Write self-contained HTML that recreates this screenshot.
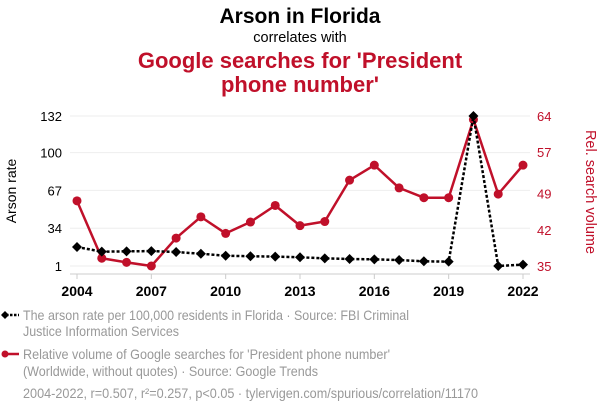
<!DOCTYPE html>
<html><head><meta charset="utf-8"><style>
body{margin:0;background:#fff;width:600px;height:414px;overflow:hidden;font-family:"Liberation Sans",sans-serif}
</style></head><body>
<svg width="600" height="414" xmlns="http://www.w3.org/2000/svg" font-family="Liberation Sans, sans-serif">
<text x="300" y="23" text-anchor="middle" font-size="21" font-weight="bold" fill="#000">Arson in Florida</text>
<text x="300" y="42" text-anchor="middle" font-size="14.5" fill="#000">correlates with</text>
<text x="300" y="68" text-anchor="middle" font-size="22" font-weight="bold" fill="#c0102a">Google searches for 'President</text>
<text x="300" y="92" text-anchor="middle" font-size="22" font-weight="bold" fill="#c0102a">phone number'</text>
<g id="grid"></g>
<g id="axes"></g>
<g id="series"></g>
<text transform="translate(16,191) rotate(-90)" text-anchor="middle" font-size="14" fill="#000">Arson rate</text>
<text transform="translate(586,192) rotate(90)" text-anchor="middle" font-size="14.5" fill="#c0102a">Rel. search volume</text>
<g>
<line x1="2" y1="315" x2="19" y2="315" stroke="#000" stroke-width="2.5" stroke-dasharray="2.5,1.5"/>
<path d="M5 311 L9 315 L5 319 L1 315 Z" fill="#000"/>
<text x="23" y="320" font-size="14" fill="#999" textLength="386" lengthAdjust="spacingAndGlyphs">The arson rate per 100,000 residents in Florida · Source: FBI Criminal</text>
<text x="23" y="336" font-size="14" fill="#999" textLength="156" lengthAdjust="spacingAndGlyphs">Justice Information Services</text>
</g>
<g>
<line x1="2" y1="354" x2="19" y2="354" stroke="#c0102a" stroke-width="2.5"/>
<circle cx="5" cy="354" r="3.5" fill="#c0102a"/>
<text x="23" y="359" font-size="14" fill="#999" textLength="367" lengthAdjust="spacingAndGlyphs">Relative volume of Google searches for 'President phone number'</text>
<text x="23" y="376" font-size="14" fill="#999" textLength="295" lengthAdjust="spacingAndGlyphs">(Worldwide, without quotes) · Source: Google Trends</text>
</g>
<text x="23" y="398" font-size="14" fill="#999" textLength="455" lengthAdjust="spacingAndGlyphs">2004-2022, r=0.507, r²=0.257, p&lt;0.05 · tylervigen.com/spurious/correlation/11170</text>
</svg>
<script>
const years=[2004,2005,2006,2007,2008,2009,2010,2011,2012,2013,2014,2015,2016,2017,2018,2019,2020,2021,2022];
const arson=[17.6,13.5,13.8,14,13.2,11.7,10,9.5,9.2,8.6,7.7,7.1,6.8,6.2,5.1,4.8,132,1,2.2];
const searches=[47.6,36.5,35.7,35,40.4,44.5,41.3,43.5,46.7,42.8,43.6,51.6,54.5,50.1,48.2,48.2,63.3,48.9,54.5];
const leftTicks=[1,34,67,100,132];
const rightTicks=[35,42,49,57,64];
const xTicks=[2004,2007,2010,2013,2016,2019,2022];
const NS="http://www.w3.org/2000/svg";
const x=v=>77+(v-2004)*(523-77)/18;
const yL=v=>266-(v-1)*150/131;
const yR=v=>266-(v-35)*150/29;
function mk(t,a,p){const e=document.createElementNS(NS,t);for(const k in a)e.setAttribute(k,a[k]);if(p)p.appendChild(e);return e;}
const grid=document.getElementById('grid'),axes=document.getElementById('axes'),ser=document.getElementById('series');
leftTicks.forEach(v=>{
 const g=mk('line',{x1:70,x2:530,y1:yL(v),y2:yL(v),stroke:'#eee','stroke-width':1},grid);
 
 
 const t=mk('text',{x:62,y:yL(v)+5,'text-anchor':'end','font-size':13,fill:'#000'},axes);t.textContent=v;
 
 
});
rightTicks.forEach(v=>{
 const t=mk('text',{x:537,y:yR(v)+5,'font-size':13,fill:'#c0102a'},axes);t.textContent=v;
 
 
});
const ax=mk('line',{x1:70,x2:530,y1:274,y2:274,stroke:'#ccc','stroke-width':1},axes);


xTicks.forEach(v=>{
 mk('line',{x1:x(v),x2:x(v),y1:274,y2:279,stroke:'#ccc'},axes);
 const t=mk('text',{x:x(v),y:296,'text-anchor':'middle','font-size':14,'font-weight':'bold',fill:'#000'},axes);t.textContent=v;
 
 
});
const rl=mk('polyline',{points:years.map((y,i)=>x(y)+','+yR(searches[i])).join(' '),fill:'none',stroke:'#c0102a','stroke-width':2.5,'stroke-linejoin':'round'},ser);


years.forEach((y,i)=>{const c=mk('circle',{cx:x(y),cy:yR(searches[i]),r:4.5,fill:'#c0102a'},ser);
 
 });
const bl=mk('polyline',{points:years.map((y,i)=>x(y)+','+yL(arson[i])).join(' '),fill:'none',stroke:'#000','stroke-width':2.5,'stroke-dasharray':'3,2'},ser);


years.forEach((y,i)=>{const cx=x(y),cy=yL(arson[i]);const d=mk('path',{d:`M${cx} ${cy-5}L${cx+5} ${cy}L${cx} ${cy+5}L${cx-5} ${cy}Z`,fill:'#000'},ser);
 
 });
</script>
</body></html>
